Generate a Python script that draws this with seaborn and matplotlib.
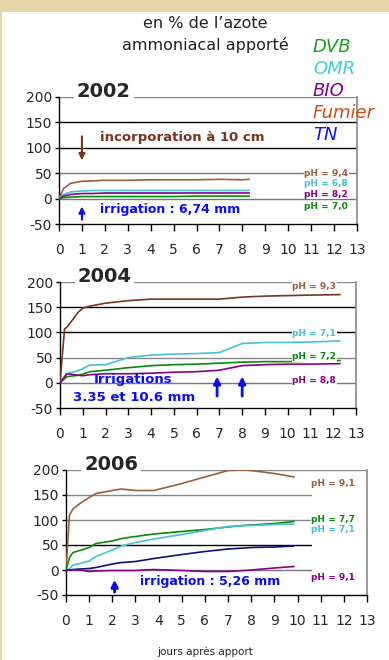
import numpy as np
import pandas as pd
import matplotlib
matplotlib.use("Agg")
import matplotlib.pyplot as plt
import seaborn as sns

# ---- data ----
years = ["2002", "2004", "2006"]

# 2002
d02 = [0, 0.2, 0.5, 1, 1.5, 2, 3, 4, 5, 6, 7, 8, 8.3]
brown02 = [0, 20, 30, 34, 35, 36, 36, 37, 37, 37, 38, 37, 38]
cyan02 = [0, 8, 13, 15, 16, 16, 16, 16, 16, 16, 16, 16, 16]
purple02 = [0, 5, 8, 10, 10, 11, 11, 11, 11, 11, 11, 11, 11]
green02 = [0, 2, 3, 4, 4, 4, 4, 4, 4, 5, 5, 5, 5]
ph02 = ["pH = 9,4", "pH = 6,8", "pH = 8,2", "pH = 7,0"]

# 2004
d04 = [0, 0.2, 0.3, 0.8, 1, 1.3, 2, 3, 4, 5, 6, 7, 8, 9, 10, 11, 12.3]
brown04 = [0, 107, 110, 140, 148, 152, 158, 163, 166, 166, 166, 166, 170, 172, 173, 174, 175]
cyan04 = [0, 12, 18, 24, 28, 35, 36, 50, 55, 57, 58, 60, 78, 80, 80, 81, 83]
green04 = [0, 8, 12, 15, 17, 22, 25, 30, 34, 36, 37, 39, 41, 42, 42, 43, 44]
purple04 = [0, 12, 18, 15, 14, 16, 18, 18, 19, 21, 22, 25, 34, 36, 37, 37, 38]
ph04 = ["pH = 9,3", "pH = 7,1", "pH = 7,2", "pH = 8,8"]

# 2006
d06 = [0, 0.15, 0.3, 0.6, 1, 1.3, 2, 2.4, 3, 3.8, 5, 6, 7, 7.7, 8, 9, 9.85]
brown06 = [0, 110, 122, 133, 145, 153, 159, 162, 159, 159, 173, 186, 199, 200, 199, 193, 186]
green06 = [0, 25, 35, 39, 45, 53, 58, 63, 67, 72, 77, 81, 86, 89, 90, 93, 97]
cyan06 = [0, 2, 10, 13, 18, 27, 40, 48, 55, 62, 71, 79, 87, 89, 89, 91, 92]
navy06 = [0, 0, 1, 2, 3, 5, 12, 15, 17, 23, 31, 37, 42, 44, 45, 46, 48]
purple06 = [0, 0, 0, 0, -3, -2, -1, -1, -1, 1, -1, -3, -3, -1, 0, 4, 7]
ph06 = ["pH = 9,1", "pH = 7,7", "pH = 7,1", "pH = 9,1"]

legend_names = ["DVB", "OMR", "BIO", "Fumier", "TN"]

# ---- style ----
sns.set_style("white")
plt.rcParams["font.family"] = ["DejaVu Sans"]
plt.rcParams["axes.unicode_minus"] = False

BROWN = "#9a5f3e"
BROWN_D = "#7a3520"
CYAN = "#45c0d6"
PURPLE = "#880088"
GREEN = "#0a8a0a"
NAVY = "#10107a"
BLUE = "#0a0aff"

fig = plt.figure(figsize=(3.89, 6.60), dpi=100)
fig.patch.set_facecolor("#e6d5aa")
fig.add_artist(plt.Rectangle((2 / 389, 0), 1, 1 - 12 / 660, transform=fig.transFigure,
                             facecolor="white", edgecolor="none", zorder=0))

positions = [
    [59 / 389, 1 - 224 / 660, 298 / 389, 127 / 660],
    [60 / 389, 1 - 408 / 660, 296 / 389, 126 / 660],
    [66 / 389, 1 - 595 / 660, 301 / 389, 125 / 660],
]
grid_colors = [
    ["#777777", "#777777", "#000000", "#000000", "#888888"],
    ["#777777", "#888888", "#000000", "#000000", "#888888"],
    ["#777777", "#000000", "#888888", "#888888", "#888888"],
]
# in 2006 the lower gridlines stop before the pH labels
grid_ends = [
    [1, 1, 1, 1, 1],
    [1, 1, 1, 1, 1],
    [0.815, 0.815, 0.815, 0.815, 1],
]

series = [
    [(d02, brown02, BROWN), (d02, cyan02, CYAN), (d02, purple02, PURPLE), (d02, green02, GREEN)],
    [(d04, brown04, BROWN_D), (d04, cyan04, CYAN), (d04, green04, GREEN), (d04, purple04, PURPLE)],
    [(d06, brown06, BROWN), (d06, green06, GREEN), (d06, cyan06, CYAN),
     (d06, navy06, NAVY), (d06, purple06, PURPLE)],
]

ph_labels = [
    (ph02, [BROWN, CYAN, PURPLE, GREEN], 10.7, [50, 30, 9, -16]),
    (ph04, [BROWN, CYAN, GREEN, PURPLE], 10.2, [192, 97, 52, 4]),
    (ph06, [BROWN, GREEN, CYAN, PURPLE], 10.6, [172, 102, 80, -16]),
]

axes = []
for i, pos in enumerate(positions):
    ax = fig.add_axes(pos)
    ax.set_facecolor("none")
    ax.set_xlim(0, 13)
    ax.set_ylim(-50, 200)
    for yv, c, xe in zip([0, 50, 100, 150, 200], grid_colors[i], grid_ends[i]):
        ax.axhline(yv, xmax=xe, color=c, lw=1.0, zorder=1)
    for x, y, c in series[i]:
        sns.lineplot(x=x, y=y, color=c, lw=1.2, ax=ax, zorder=3)
    ax.set_xticks(range(0, 14))
    ax.set_yticks([-50, 0, 50, 100, 150, 200])
    ax.tick_params(axis="x", direction="out", length=5, width=1, pad=9, labelsize=10,
                   color="black", bottom=True)
    ax.tick_params(axis="y", direction="out", length=3, width=1, pad=2, labelsize=10,
                   color="black", left=True)
    for s in ["left", "bottom"]:
        ax.spines[s].set_color("black")
        ax.spines[s].set_linewidth(1)
    ax.spines["right"].set_color("#888888")
    ax.spines["right"].set_linewidth(1.2)
    ax.spines["top"].set_visible(False)
    ax.set_xlabel("")
    ax.set_ylabel("")
    ax.text(0.06, 1.04, years[i], transform=ax.transAxes, fontsize=14, fontweight="bold",
            ha="left", va="center", zorder=5,
            bbox=dict(facecolor="white", edgecolor="none", pad=2))
    labs, cols, xl, yls = ph_labels[i]
    for lab, c, yl in zip(labs, cols, yls):
        ax.text(xl, yl, lab, color=c, fontsize=6.5, fontweight="bold", ha="left", va="center",
                zorder=5, bbox=dict(facecolor="white", edgecolor="none", pad=0.5))
    axes.append(ax)

ax1, ax2, ax3 = axes

# 2002 annotations
ax1.text(1.8, 121, "incorporation à 10 cm", color=BROWN_D, fontsize=9.5, fontweight="bold",
         ha="left", va="center")
ax1.annotate("", xy=(1, 70), xytext=(1, 128),
             arrowprops=dict(arrowstyle="-|>", color=BROWN_D, lw=1.5, mutation_scale=9))
ax1.text(1.8, -21, "irrigation : 6,74 mm", color=BLUE, fontsize=9, fontweight="bold",
         ha="left", va="center")
ax1.annotate("", xy=(1, -10), xytext=(1, -47),
             arrowprops=dict(arrowstyle="-|>", color=BLUE, lw=1.5, mutation_scale=9))

# 2004 annotations
ax2.text(3.2, 6, "Irrigations", color=BLUE, fontsize=9.5, fontweight="bold", ha="center", va="center")
ax2.text(3.25, -30, "3.35 et 10.6 mm", color=BLUE, fontsize=9.5, fontweight="bold",
         ha="center", va="center")
for xa in [6.9, 8.0]:
    ax2.annotate("", xy=(xa, 18), xytext=(xa, -32),
                 arrowprops=dict(arrowstyle="-|>", color=BLUE, lw=2, mutation_scale=10))

# 2006 annotations
ax3.text(3.2, -24, "irrigation : 5,26 mm", color=BLUE, fontsize=9, fontweight="bold",
         ha="left", va="center")
ax3.annotate("", xy=(2.1, -14), xytext=(2.1, -50),
             arrowprops=dict(arrowstyle="-|>", color=BLUE, lw=2, mutation_scale=10))

# header texts
fig.text(205 / 389, 1 - 23 / 660, "en % de l’azote", fontsize=11.5, color="#222222",
         ha="center", va="center")
fig.text(205 / 389, 1 - 45 / 660, "ammoniacal apporté", fontsize=11.5, color="#222222",
         ha="center", va="center")
legend_colors = ["#15a015", "#40d0d0", "#800090", "#d24a12", "#1010f0"]
for k, (name, c) in enumerate(zip(legend_names, legend_colors)):
    fig.text(313 / 389, 1 - (47 + k * 22) / 660, name, fontsize=13, style="italic",
             color=c, ha="left", va="center")

fig.text(205 / 389, 1 - 652 / 660, "jours après apport", fontsize=7.5, color="#222222",
         ha="center", va="center")

fig.savefig("out.png", dpi=100, facecolor=fig.get_facecolor())
